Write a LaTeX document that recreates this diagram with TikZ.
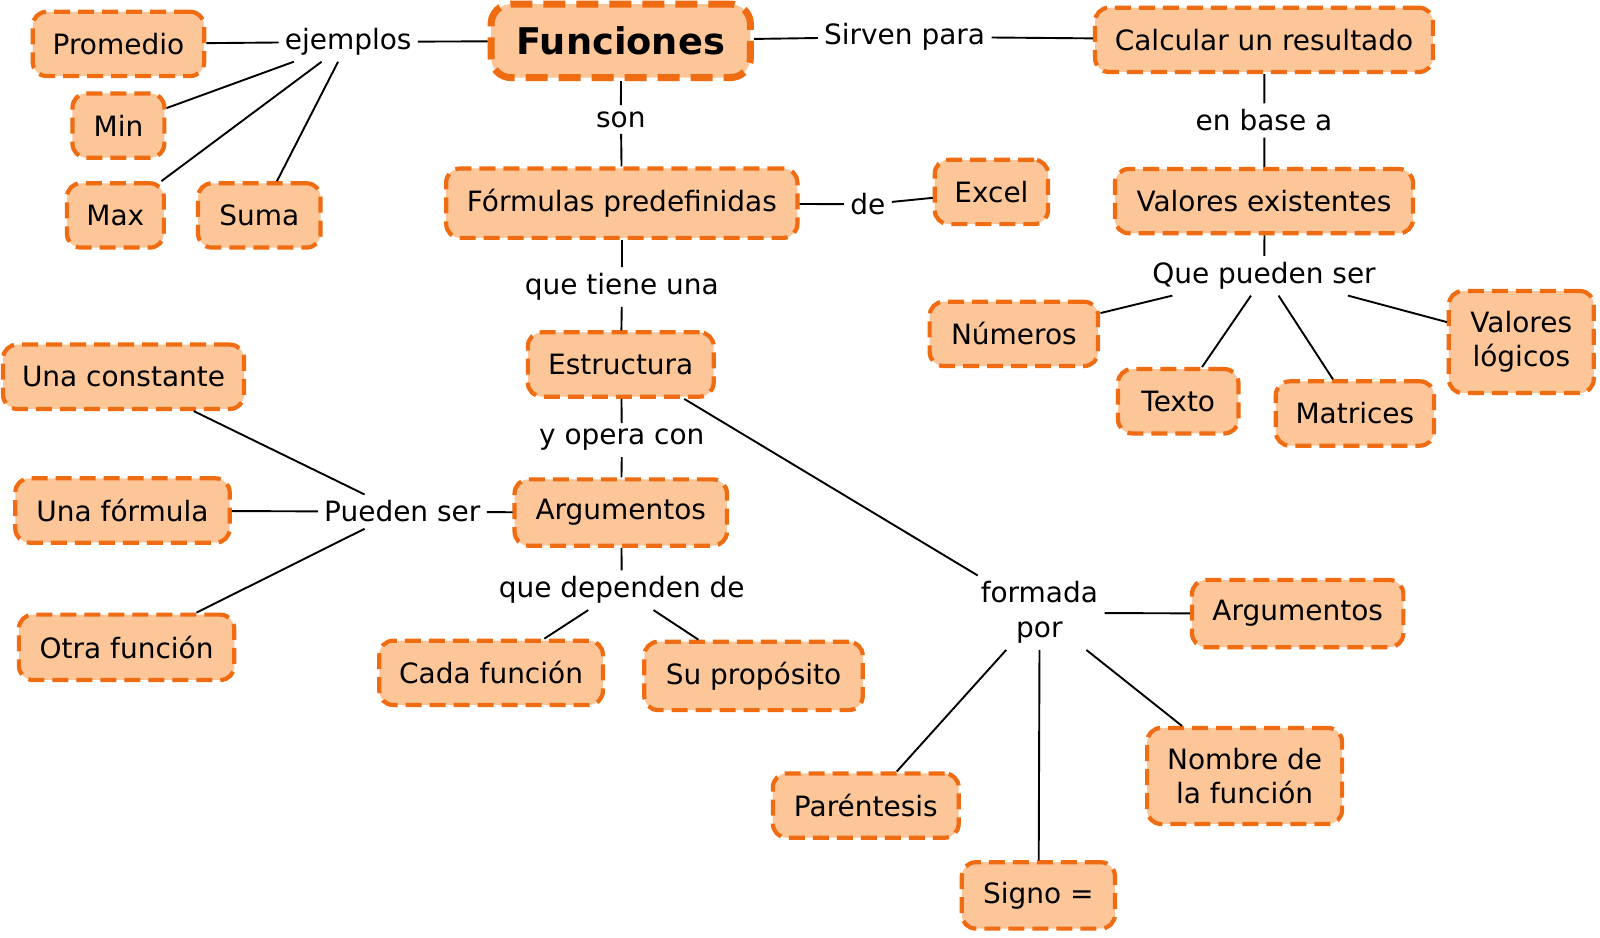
\documentclass[tikz,border=0pt]{standalone}
\usepackage{fontspec}
\setmainfont{DejaVu Sans}
\definecolor{boxfill}{RGB}{252,198,152}
\definecolor{boxline}{RGB}{240,108,18}
\begin{document}
\begin{tikzpicture}[x=1pt,y=-1pt,
  every node/.style={font=\fontsize{27.4}{33}\selectfont, text=black},
  cbox/.style={draw=boxline, fill=boxfill, line width=4.2pt, dash pattern=on 16pt off 8pt,
    rounded corners=14pt, inner sep=0pt, minimum height=63pt, align=center},
  lbl/.style={inner xsep=6pt, inner ysep=6pt, align=center},
  conn/.style={line width=1.9pt, black}]
\useasboundingbox (0,0) rectangle (1600,937);
\begin{scope}[scale=1.021, transform shape]
% concept boxes
\node[cbox, line width=7pt, dash pattern=on 22pt off 11pt, rounded corners=20pt,
  minimum width=254pt, minimum height=72pt, font=\fontsize{36}{40}\selectfont\bfseries] (fun) at (608,40) {Funciones};
\node[cbox, minimum width=168pt] (prom) at (116,43) {Promedio};
\node[cbox, minimum width=90pt] (min) at (116,123) {Min};
\node[cbox, minimum width=95pt] (max) at (113,211) {Max};
\node[cbox, minimum width=120pt] (suma) at (254,211) {Suma};
\node[cbox, minimum width=331pt] (calc) at (1238,39) {Calcular un resultado};
\node[cbox, minimum width=344pt, minimum height=68pt] (form) at (609,199) {Fórmulas predefinidas};
\node[cbox, minimum width=111pt] (excel) at (971,188) {Excel};
\node[cbox, minimum width=292pt] (valex) at (1238,197) {Valores existentes};
\node[cbox, minimum width=165pt] (num) at (993,327) {Números};
\node[cbox, minimum width=118pt] (texto) at (1154,393) {Texto};
\node[cbox, minimum width=155pt] (matr) at (1327,405) {Matrices};
\node[cbox, minimum width=142pt, minimum height=100pt] (vallog) at (1490,335) {Valores\\lógicos};
\node[cbox, minimum width=182pt] (estr) at (608,357) {Estructura};
\node[cbox, minimum width=236pt] (ucons) at (121,369) {Una constante};
\node[cbox, minimum width=210pt] (uform) at (120,500) {Una fórmula};
\node[cbox, minimum width=211pt, minimum height=64pt] (otra) at (124,634) {Otra función};
\node[cbox, minimum width=208pt, minimum height=65pt] (arg) at (608,502) {Argumentos};
\node[cbox, minimum width=219pt] (cada) at (481,659) {Cada función};
\node[cbox, minimum width=214pt, minimum height=67pt] (prop) at (738,662) {Su propósito};
\node[cbox, minimum width=207pt, minimum height=66pt] (arg2) at (1271,601) {Argumentos};
\node[cbox, minimum width=182pt] (paren) at (848,789) {Paréntesis};
\node[cbox, minimum width=191pt, minimum height=94pt] (nomb) at (1219,760) {Nombre de\\la función};
\node[cbox, minimum width=150pt, minimum height=65pt] (signo) at (1017,877) {Signo =};
% linking labels
\node[lbl] (ej) at (341,41) {ejemplos};
\node[lbl] (sirv) at (886,36) {Sirven para};
\node[lbl] (son) at (608,117) {son};
\node[lbl] (de) at (850,200) {de};
\node[lbl] (base) at (1238,118) {en base a};
\node[lbl] (tiene) at (609,281) {que tiene una};
\node[lbl] (qps) at (1238,270) {Que pueden ser};
\node[lbl] (opera) at (609,431) {y opera con};
\node[lbl] (ps) at (394,501) {Pueden ser};
\node[lbl] (dep) at (609,578) {que dependen de};
\node[lbl, font=\fontsize{27.4}{34}\selectfont] (formada) at (1018,600) {formada\\por};
% connectors
\draw[conn] (prom) -- (ej);
\draw[conn] (ej) -- (fun);
\draw[conn] (ej) -- (min);
\draw[conn] (ej) -- (max);
\draw[conn] (ej) -- (suma);
\draw[conn] (fun) -- (sirv);
\draw[conn] (sirv) -- (calc);
\draw[conn] (fun) -- (son);
\draw[conn] (son) -- (form);
\draw[conn] (form) -- (de);
\draw[conn] (de) -- (excel);
\draw[conn] (calc) -- (base);
\draw[conn] (base) -- (valex);
\draw[conn] (valex) -- (qps);
\draw[conn] ([xshift=-90pt]qps.south) -- (num);
\draw[conn] ([xshift=-13pt]qps.south) -- (texto);
\draw[conn] ([xshift=14pt]qps.south) -- (matr);
\draw[conn] ([xshift=82pt]qps.south) -- (vallog);
\draw[conn] (form) -- (tiene);
\draw[conn] (tiene) -- (estr);
\draw[conn] (estr) -- (opera);
\draw[conn] (opera) -- (arg);
\draw[conn] ([xshift=62pt]estr.south) -- (formada);
\draw[conn] (formada) -- (arg2);
\draw[conn] (formada) -- (paren);
\draw[conn] (formada) -- (signo);
\draw[conn] (formada) -- (nomb);
\draw[conn] (arg) -- (ps);
\draw[conn] ([xshift=-37pt]ps.north) -- (ucons);
\draw[conn] (ps) -- (uform);
\draw[conn] ([xshift=-37pt]ps.south) -- (otra);
\draw[conn] (arg) -- (dep);
\draw[conn] ([xshift=-33pt]dep.south) -- (cada);
\draw[conn] ([xshift=31pt]dep.south) -- (prop);
\end{scope}
\end{tikzpicture}
\end{document}
